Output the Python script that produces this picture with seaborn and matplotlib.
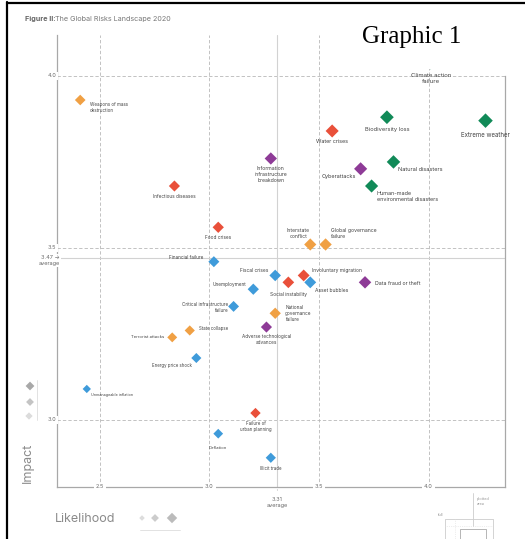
import matplotlib.pyplot as plt
import numpy as np
import pandas as pd
import seaborn as sns
from matplotlib.patches import Rectangle

# risk names (line breaks as in the figure)
risks = [
    "Weapons of mass\ndestruction", "Infectious diseases", "Information\ninfrastructure\nbreakdown",
    "Climate action\nfailure", "Biodiversity loss", "Extreme weather", "Water crises",
    "Cyberattacks", "Natural disasters", "Human-made\nenvironmental disasters", "Food crises",
    "Interstate\nconflict", "Global governance\nfailure", "Financial failure", "Fiscal crises",
    "Social instability", "Involuntary migration", "Asset bubbles", "Data fraud or theft",
    "Unemployment", "Critical infrastructure\nfailure", "National\ngovernance\nfailure",
    "Adverse technological\nadvances", "State collapse", "Terrorist attacks",
    "Energy price shock", "Unmanageable inflation", "Failure of\nurban planning",
    "Deflation", "Illicit trade",
]
likelihood = [2.41, 2.84, 3.28, 4.01, 3.81, 4.26, 3.56, 3.69, 3.84, 3.74, 3.04,
              3.46, 3.53, 3.02, 3.30, 3.36, 3.43, 3.46, 3.71, 3.20, 3.11, 3.30,
              3.26, 2.91, 2.83, 2.94, 2.44, 3.21, 3.04, 3.28]
impact = [3.93, 3.68, 3.76, 4.04, 3.88, 3.87, 3.84, 3.73, 3.75, 3.68, 3.56,
          3.51, 3.51, 3.46, 3.42, 3.40, 3.42, 3.40, 3.40, 3.38, 3.33, 3.31,
          3.27, 3.26, 3.24, 3.18, 3.09, 3.02, 2.96, 2.89]
category = ["Geopolitical", "Societal", "Technological", "Environmental", "Environmental",
            "Environmental", "Societal", "Technological", "Environmental", "Environmental",
            "Societal", "Geopolitical", "Geopolitical", "Economic", "Economic", "Societal",
            "Societal", "Economic", "Technological", "Economic", "Economic", "Geopolitical",
            "Technological", "Geopolitical", "Geopolitical", "Economic", "Economic",
            "Societal", "Economic", "Economic"]

x_ticks = [2.5, 3.0, 3.5, 4.0]
y_ticks = [3.0, 3.5, 4.0]
avg_likelihood = 3.31
avg_impact = 3.47

palette = {"Economic": "#3f9bda", "Geopolitical": "#f0a044", "Environmental": "#118a58",
           "Societal": "#e9503a", "Technological": "#8e3b97"}

# label placement: offset in pixels from the marker (dx, dy down), ha, va
label_pos = [
    (10, 2, "left", "top"), (0, 10, "center", "center"), (0, 8, "center", "top"),
    (0, 11, "center", "top"), (0, 12, "center", "center"), (0, 14, "center", "center"),
    (0, 11, "center", "center"), (-5, 8, "right", "center"), (5, 8, "left", "center"),
    (5, 5, "left", "top"), (0, 10, "center", "center"), (-12, -5, "center", "bottom"),
    (5, -5, "left", "bottom"), (-10, -4, "right", "center"), (-7, -5, "right", "center"),
    (0, 12, "center", "center"), (8, -5, "left", "center"), (5, 8, "left", "center"),
    (10, 1, "left", "center"), (-7, -5, "right", "center"), (-5, 1, "right", "center"),
    (10, 0, "left", "center"), (0, 7, "center", "top"), (9, -2, "left", "center"),
    (-8, 0, "right", "center"), (-4, 7, "right", "center"), (4, 6, "left", "center"),
    (0, 8, "center", "top"), (0, 14, "center", "center"), (0, 11, "center", "center"),
]

df = pd.DataFrame({"risk": risks, "likelihood": likelihood, "impact": impact,
                   "category": category})
df["score"] = df["likelihood"] + df["impact"]

sns.set_theme(style="white")
plt.rcParams["font.family"] = ["Inter", "DejaVu Sans"]

fig = plt.figure(figsize=(5.25, 5.39), dpi=100)
ax = fig.add_axes([57 / 525, 1 - 487 / 539, 448 / 525, 452 / 539])
xlim = (2.304, 4.349)
ylim = (2.805, 4.119)

for xt in x_ticks:
    ax.axvline(xt, color="#b8b8b8", lw=0.6, ls=(0, (4, 2.5)), zorder=1)
for yt in y_ticks:
    ax.axhline(yt, color="#b8b8b8", lw=0.6, ls=(0, (4, 2.5)), zorder=1)
ax.axvline(avg_likelihood, color="#d2d2d2", lw=0.8, zorder=1)
ax.axhline(avg_impact, color="#d2d2d2", lw=0.8, zorder=1)

sns.scatterplot(data=df, x="likelihood", y="impact", hue="category", palette=palette,
                size="score", sizes=(18, 55), marker="D", linewidth=0, legend=False,
                ax=ax, zorder=3)

for (_, row), (dx, dy, ha, va) in zip(df.iterrows(), label_pos):
    fs = 2.7 + (row["score"] - 5.5) * 0.65
    ax.annotate(row["risk"], (row["likelihood"], row["impact"]), xytext=(dx, -dy),
                textcoords="offset pixels", ha=ha, va=va, multialignment=ha,
                fontsize=fs, color="#444444", zorder=4, linespacing=1.25)

ax.set_xlim(xlim)
ax.set_ylim(ylim)
ax.set_xticks([])
ax.set_yticks([])
ax.set_xlabel("")
ax.set_ylabel("")
ax.spines["top"].set_visible(False)
for side in ["left", "bottom", "right"]:
    ax.spines[side].set_color("#a8a8a8")
    ax.spines[side].set_linewidth(0.9)
ax.spines["right"].set_bounds(ylim[0], 4.0)

tick_kw = dict(fontsize=4, color="#6a6a6a", clip_on=False, zorder=5,
               bbox=dict(facecolor="white", edgecolor="none", pad=1.2))
for xt in x_ticks:
    ax.text(xt, ylim[0], f"{xt:.1f}", ha="center", va="center", **tick_kw)
for yt in y_ticks:
    ax.text(-0.011, yt, f"{yt:.1f}", ha="center", va="center",
            transform=ax.get_yaxis_transform(), **tick_kw)
ax.annotate(f"{avg_likelihood:.2f}\naverage", (avg_likelihood, ylim[0]), xytext=(0, -10),
            textcoords="offset pixels", ha="center", va="top", fontsize=4, color="#6a6a6a",
            annotation_clip=False)
ax.annotate("", (avg_likelihood, ylim[0]), xytext=(0, -6), textcoords="offset pixels",
            arrowprops=dict(arrowstyle="-", color="#a8a8a8", lw=0.6), annotation_clip=False)
ax.annotate(f"{avg_impact:.2f} →\naverage", (xlim[0], avg_impact), xytext=(3, 3),
            textcoords="offset pixels", ha="right", va="top", fontsize=4, color="#6a6a6a",
            annotation_clip=False, zorder=5,
            bbox=dict(facecolor="white", edgecolor="none", pad=0.8))

# overlay in pixel coordinates for the page furniture
ov = fig.add_axes([0, 0, 1, 1], zorder=5)
ov.set_xlim(0, 525)
ov.set_ylim(539, 0)
ov.axis("off")
ov.patch.set_alpha(0)

ov.text(25, 19, "Figure II:", fontsize=5.2, fontweight="bold", color="#666666", va="center")
ov.text(55, 19, "The Global Risks Landscape 2020", fontsize=5.2, color="#777777", va="center")

ov.add_patch(Rectangle((350, 5), 172, 64, facecolor="white", edgecolor="none"))
ov.text(362, 43, "Graphic 1", family="Liberation Serif", fontsize=18, color="black",
        va="baseline")

ov.plot([7, 7], [2, 539], color="black", lw=1.6, clip_on=False)
ov.plot([7, 525], [2.5, 2.5], color="black", lw=1.6, clip_on=False)

# impact legend
ov.text(28, 463, "Impact", rotation=90, fontsize=9, color="#8a8a8a", ha="center", va="center")
ov.scatter([30, 30, 29], [386, 402, 416], s=[20, 16, 14], marker="D",
           c=["#a8a8a8", "#c4c4c4", "#dcdcdc"], linewidths=0)
ov.plot([37, 37], [380, 420], color="#dddddd", lw=0.6)

# likelihood legend
ov.text(55, 519, "Likelihood", fontsize=9, color="#8a8a8a", ha="left", va="center")
ov.scatter([142, 155, 172], [518, 518, 518], s=[8, 16, 28], marker="D",
           c=["#dddddd", "#cccccc", "#bbbbbb"], linewidths=0)
ov.plot([140, 180], [530, 530], color="#dddddd", lw=0.6)

# plotted area key
ov.plot([473, 473], [493, 526], color="#cccccc", lw=0.6)
ov.text(477, 497, "plotted\narea", fontsize=2.8, color="#999999", va="top")
ov.text(438, 515, "full", fontsize=2.8, color="#999999", va="center")
ov.plot([445, 445, 493, 493], [539, 519, 519, 539], color="#cccccc", lw=0.6)
ov.plot([460, 460, 486, 486], [539, 529, 529, 539], color="#aaaaaa", lw=0.6)
ov.plot([445, 493], [526, 526], color="#dddddd", lw=0.5, ls=":")
ov.plot([455, 455], [519, 539], color="#dddddd", lw=0.5, ls=":")

fig.savefig("out.png", dpi=100)
